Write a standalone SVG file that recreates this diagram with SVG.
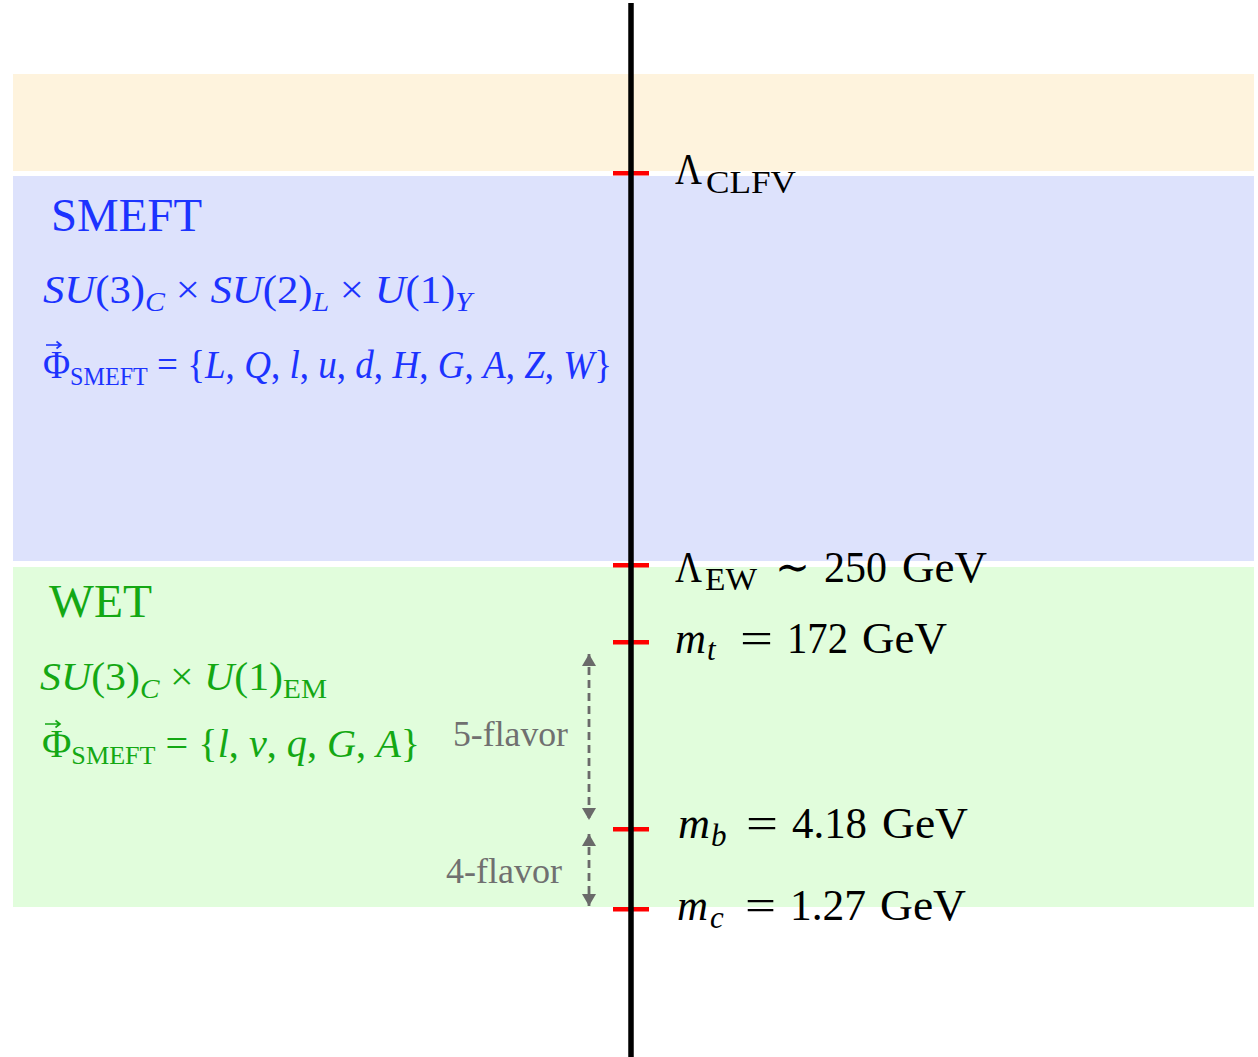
<svg xmlns="http://www.w3.org/2000/svg" width="1258" height="1057" viewBox="0 0 1258 1057">
<style>
  text { font-family: "Liberation Serif", "DejaVu Serif", serif; }
  .lab { font-size: 44px; fill: #000; }
  .sub { font-size: 31px; fill: #000; }
  .it { font-style: italic; }
  .blue { fill: #1c33ff; }
  .green { fill: #14a814; }
  .gray { fill: #707070; font-size: 35px; }
  .tick { fill: #ff0000; }
  .dash { stroke: #6a6a6a; stroke-width: 2.8; stroke-dasharray: 8 5; fill: none; }
</style>
<defs>
  <marker id="ah" viewBox="0 0 12 14" refX="12" refY="7" markerWidth="12" markerHeight="14" markerUnits="userSpaceOnUse" orient="auto-start-reverse">
    <path d="M0,0 L12,7 L0,14 z" fill="#6a6a6a"/>
  </marker>
</defs>
<rect width="1258" height="1057" fill="#ffffff"/>

<g id="bands">
  <rect id="band-clfv" x="13" y="74" width="1241" height="97" fill="#fef3dd"/>
  <rect id="band-smeft" x="13" y="176" width="1241" height="385" fill="#dde2fc"/>
  <rect id="band-wet" x="13" y="567" width="1241" height="340" fill="#e1fddc"/>
</g>

<g id="node-smeft">
  <text class="blue" x="51" y="231" font-size="46" textLength="151" lengthAdjust="spacingAndGlyphs">SMEFT</text>
  <text class="blue" x="43" y="303" font-size="40" textLength="429" lengthAdjust="spacingAndGlyphs"><tspan class="it">SU</tspan>(3)<tspan class="it" font-size="28" dy="8">C</tspan><tspan dy="-8"> × </tspan><tspan class="it">SU</tspan>(2)<tspan class="it" font-size="28" dy="8">L</tspan><tspan dy="-8"> × </tspan><tspan class="it">U</tspan>(1)<tspan class="it" font-size="28" dy="8">Y</tspan></text>
  <text class="blue" x="43" y="378" font-size="40" textLength="569" lengthAdjust="spacingAndGlyphs">Φ<tspan font-size="26" dy="7">SMEFT</tspan><tspan dy="-7"> = {</tspan><tspan class="it">L</tspan>, <tspan class="it">Q</tspan>, <tspan class="it">l</tspan>, <tspan class="it">u</tspan>, <tspan class="it">d</tspan>, <tspan class="it">H</tspan>, <tspan class="it">G</tspan>, <tspan class="it">A</tspan>, <tspan class="it">Z</tspan>, <tspan class="it">W</tspan>}</text>
  <path d="M46,345 H60 M56.5,341.5 L61,345 L56.5,348.5" stroke="#1c33ff" stroke-width="1.6" fill="none"/>
</g>

<g id="node-wet">
  <text class="green" x="49" y="617" font-size="46" textLength="103" lengthAdjust="spacingAndGlyphs">WET</text>
  <text class="green" x="40" y="690" font-size="40" textLength="287" lengthAdjust="spacingAndGlyphs"><tspan class="it">SU</tspan>(3)<tspan class="it" font-size="28" dy="8">C</tspan><tspan dy="-8"> × </tspan><tspan class="it">U</tspan>(1)<tspan font-size="28" dy="8">EM</tspan></text>
  <text class="green" x="42" y="757" font-size="40" textLength="378" lengthAdjust="spacingAndGlyphs">Φ<tspan font-size="26" dy="7">SMEFT</tspan><tspan dy="-7"> = {</tspan><tspan class="it">l</tspan>, <tspan class="it">ν</tspan>, <tspan class="it">q</tspan>, <tspan class="it">G</tspan>, <tspan class="it">A</tspan>}</text>
  <path d="M45,724 H59 M55.5,720.5 L60,724 L55.5,727.5" stroke="#14a814" stroke-width="1.6" fill="none"/>
</g>

<g id="node-flavor">
  <text class="gray" x="453" y="746" textLength="115" lengthAdjust="spacingAndGlyphs">5-flavor</text>
  <text class="gray" x="446" y="883" textLength="116" lengthAdjust="spacingAndGlyphs">4-flavor</text>
</g>

<g id="axis">
  <rect class="tick" x="613" y="171" width="36" height="4.5"/>
  <rect class="tick" x="613" y="563" width="36" height="4.5"/>
  <rect class="tick" x="613" y="640" width="36" height="4.5"/>
  <rect class="tick" x="613" y="827" width="36" height="4.5"/>
  <rect class="tick" x="613" y="907" width="36" height="4.5"/>
  <line x1="631" y1="3" x2="631" y2="1057" stroke="#000" stroke-width="5.5"/>
</g>

<g id="node-clfv">
  <text class="lab" x="675" y="184" textLength="27" lengthAdjust="spacingAndGlyphs">Λ</text>
  <text class="sub" x="706" y="193" textLength="90" lengthAdjust="spacingAndGlyphs">CLFV</text>
</g>
<g id="node-ew">
  <text class="lab" x="675" y="582" textLength="27" lengthAdjust="spacingAndGlyphs">Λ</text>
  <text class="sub" x="705" y="590" textLength="52" lengthAdjust="spacingAndGlyphs">EW</text>
  <text class="lab" x="775" y="582" textLength="35" lengthAdjust="spacingAndGlyphs">∼</text>
  <text class="lab" x="824" y="582" textLength="63" lengthAdjust="spacingAndGlyphs">250</text>
  <text class="lab" x="902" y="582" textLength="85" lengthAdjust="spacingAndGlyphs">GeV</text>
</g>
<g id="node-mt">
  <text class="lab it" x="675" y="653" textLength="31" lengthAdjust="spacingAndGlyphs">m</text>
  <text class="sub it" x="707" y="660">t</text>
  <text class="lab" x="740" y="653" textLength="33" lengthAdjust="spacingAndGlyphs">=</text>
  <text class="lab" x="787" y="653" textLength="61" lengthAdjust="spacingAndGlyphs">172</text>
  <text class="lab" x="862" y="653" textLength="85" lengthAdjust="spacingAndGlyphs">GeV</text>
</g>
<g id="node-mb">
  <text class="lab it" x="678" y="838" textLength="32" lengthAdjust="spacingAndGlyphs">m</text>
  <text class="sub it" x="711" y="846">b</text>
  <text class="lab" x="746" y="838" textLength="32" lengthAdjust="spacingAndGlyphs">=</text>
  <text class="lab" x="792" y="838" textLength="75" lengthAdjust="spacingAndGlyphs">4.18</text>
  <text class="lab" x="882" y="838" textLength="86" lengthAdjust="spacingAndGlyphs">GeV</text>
</g>
<g id="node-mc">
  <text class="lab it" x="677" y="920" textLength="31" lengthAdjust="spacingAndGlyphs">m</text>
  <text class="sub it" x="710" y="928">c</text>
  <text class="lab" x="745" y="920" textLength="31" lengthAdjust="spacingAndGlyphs">=</text>
  <text class="lab" x="790" y="920" textLength="76" lengthAdjust="spacingAndGlyphs">1.27</text>
  <text class="lab" x="880" y="920" textLength="86" lengthAdjust="spacingAndGlyphs">GeV</text>
</g>

<g id="connectors">
  <line class="dash" x1="589" y1="654" x2="589" y2="820" marker-start="url(#ah)" marker-end="url(#ah)"/>
  <line class="dash" x1="589" y1="834" x2="589" y2="906" marker-start="url(#ah)" marker-end="url(#ah)"/>
</g>
</svg>
